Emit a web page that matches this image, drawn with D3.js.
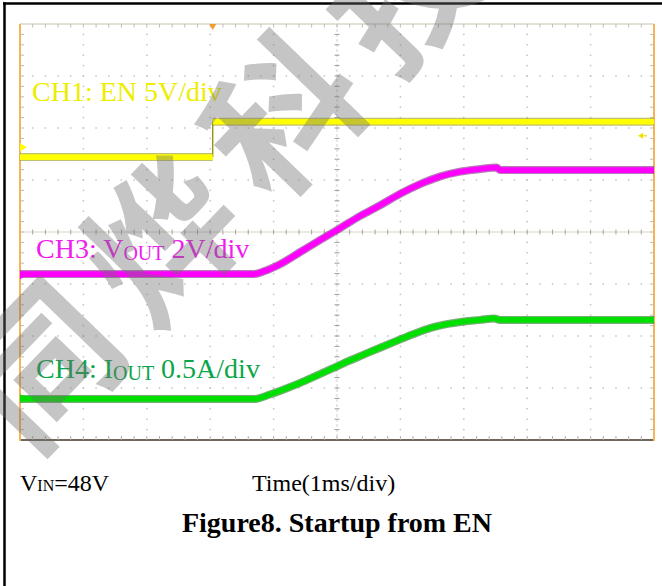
<!DOCTYPE html>
<html>
<head>
<meta charset="utf-8">
<script src="https://cdn.jsdelivr.net/npm/d3@7"></script>
<style>
  html, body { margin: 0; padding: 0; background: #fff; }
  svg { display: block; }
</style>
</head>
<body>
<svg id="chart" width="662" height="586"></svg>
<script>
// ---- scope screen: 10 time divisions x 8 vertical divisions ----
const timeDivisions = [0, 1, 2, 3, 4, 5, 6, 7, 8, 9, 10];      // ms (1 ms/div)
const verticalDivisions = [-4, -3, -2, -1, 0, 1, 2, 3, 4];

// CH1: EN (V)
const enTime  = [0, 3.04, 3.04, 10];
const enVolts = [0, 0, 3.4, 3.4];

// CH3: VOUT (V)
const voutTime  = [0, 3.68, 3.86, 4.1, 4.42, 4.73, 5.05, 5.36, 5.68, 5.99, 6.31, 6.62, 6.94, 7.26, 7.52, 7.57, 10];
const voutVolts = [0, 0, 0.12, 0.38, 0.85, 1.31, 1.77, 2.23, 2.65, 3.08, 3.46, 3.75, 3.94, 4.04, 4.1, 4.0, 4.0];

// CH4: IOUT (A)
const ioutTime = [0, 3.71, 3.94, 4.18, 4.42, 4.65, 4.91, 5.17, 5.43, 5.69, 5.96, 6.21, 6.48, 6.75, 7.0, 7.26, 7.48, 7.57, 10];
const ioutAmps = [0, 0, 0.043, 0.096, 0.154, 0.216, 0.288, 0.361, 0.428, 0.495, 0.563, 0.625, 0.683, 0.721, 0.745, 0.76, 0.774, 0.76, 0.76];

// channel settings (units per division, ground level in divisions from screen centre)
const channels = [
  { name: "CH1", time: enTime,   values: enVolts,   perDiv: 5,   ground: 1.44,  marker: 1.63, curve: d3.curveLinear,
    color: "#ffff00", edge: "#8c8c00", labelColor: "#eded00" },
  { name: "CH3", time: voutTime, values: voutVolts, perDiv: 2,   ground: -0.81, marker: -0.83, curve: d3.curveMonotoneX,
    color: "#ff00ff", edge: "#7a0a7a", labelColor: "#f01cf0" },
  { name: "CH4", time: ioutTime, values: ioutAmps,  perDiv: 0.5, ground: -3.21, marker: -3.19, curve: d3.curveMonotoneX,
    color: "#00e000", edge: "#0a6a0a", labelColor: "#0aa64a" }
];

const svg = d3.select("#chart");
const W = 662, H = 586;
const plot = { left: 20, right: 654, top: 24, bottom: 440 };

const x = d3.scaleLinear().domain([0, 10]).range([plot.left, plot.right]);
const y = d3.scaleLinear().domain([-4, 4]).range([plot.bottom, plot.top]);

svg.append("rect").attr("width", W).attr("height", H).attr("fill", "#fff");

// page frame
svg.append("line").attr("x1", 3).attr("x2", W).attr("y1", 3.5).attr("y2", 3.5)
  .attr("stroke", "#000").attr("stroke-width", 2.5);
svg.append("line").attr("x1", 4.5).attr("x2", 4.5).attr("y1", 2.3).attr("y2", H)
  .attr("stroke", "#000").attr("stroke-width", 2.5);

// ---- graticule ----
const grid = svg.append("g");
const sub = d3.range(0, 10.0001, 0.2);
const subV = d3.range(-4, 4.0001, 0.2);

// dotted division lines
timeDivisions.slice(1, -1).filter(d => d !== 5).forEach(t => {
  grid.selectAll(null).data(subV.slice(1, -1)).join("rect")
    .attr("x", x(t) - 0.75).attr("y", d => y(d) - 0.75)
    .attr("width", 1.5).attr("height", 1.5).attr("fill", "#c4c4c4");
});
verticalDivisions.slice(1, -1).filter(d => d !== 0).forEach(v => {
  grid.selectAll(null).data(sub.slice(1, -1)).join("rect")
    .attr("x", d => x(d) - 0.75).attr("y", y(v) - 0.75)
    .attr("width", 1.5).attr("height", 1.5).attr("fill", "#c4c4c4");
});

// centre axes with minor ticks
grid.append("line").attr("x1", plot.left).attr("x2", plot.right)
  .attr("y1", y(0)).attr("y2", y(0)).attr("stroke", "#d9d2c6").attr("stroke-width", 1);
grid.append("line").attr("x1", x(5)).attr("x2", x(5))
  .attr("y1", plot.top).attr("y2", plot.bottom).attr("stroke", "#d0d0d0").attr("stroke-width", 1)
  .attr("stroke-dasharray", "3,2");
grid.selectAll(null).data(sub.slice(1, -1)).join("line")
  .attr("x1", d => x(d)).attr("x2", d => x(d))
  .attr("y1", y(0) - 2.5).attr("y2", y(0) + 2.5).attr("stroke", "#aaa39a").attr("stroke-width", 1);
grid.selectAll(null).data(subV.slice(1, -1)).join("line")
  .attr("x1", x(5) - 2.5).attr("x2", x(5) + 2.5)
  .attr("y1", d => y(d)).attr("y2", d => y(d)).attr("stroke", "#9c9c9c").attr("stroke-width", 1);

// screen border: top and bottom edges with ticks
grid.append("line").attr("x1", plot.left).attr("x2", plot.right)
  .attr("y1", plot.top).attr("y2", plot.top).attr("stroke", "#ddd6ca").attr("stroke-width", 1.5);
grid.selectAll(null).data(sub.slice(1, -1)).join("line")
  .attr("x1", d => x(d)).attr("x2", d => x(d))
  .attr("y1", plot.top).attr("y2", plot.top + 3.5).attr("stroke", "#bdbdbd").attr("stroke-width", 1);
grid.append("line").attr("x1", plot.left).attr("x2", plot.right)
  .attr("y1", plot.bottom).attr("y2", plot.bottom).attr("stroke", "#6f665c").attr("stroke-width", 2);
grid.selectAll(null).data(sub.slice(1, -1)).join("line")
  .attr("x1", d => x(d)).attr("x2", d => x(d))
  .attr("y1", plot.bottom - 4).attr("y2", plot.bottom).attr("stroke", "#b5aea4").attr("stroke-width", 1);

// left and right edges with ticks
grid.selectAll(null).data(subV.slice(1, -1)).join("line")
  .attr("x1", plot.left).attr("x2", plot.left + 4)
  .attr("y1", d => y(d)).attr("y2", d => y(d)).attr("stroke", "#bdbdbd").attr("stroke-width", 1);
grid.selectAll(null).data(subV.slice(1, -1)).join("line")
  .attr("x1", plot.right - 4).attr("x2", plot.right)
  .attr("y1", d => y(d)).attr("y2", d => y(d)).attr("stroke", "#bdbdbd").attr("stroke-width", 1);
[plot.left, plot.right].forEach(px => {
  grid.append("line").attr("x1", px).attr("x2", px)
    .attr("y1", plot.top).attr("y2", plot.bottom + 1)
    .attr("stroke", "#f5b458").attr("stroke-width", 2);
});

// ---- traces ----
// a sample pair sharing the same time is a fast edge: drawn as a thin line,
// the settled runs between such edges are drawn as the wide persistence band
const traces = svg.append("g");
channels.forEach(ch => {
  const pts = ch.time.map((t, i) => [t, ch.ground + ch.values[i] / ch.perDiv]);
  const runs = [[pts[0]]];
  for (let i = 1; i < pts.length; i++) {
    if (pts[i][0] === pts[i - 1][0]) {
      traces.append("line")
        .attr("x1", x(pts[i][0])).attr("x2", x(pts[i][0]))
        .attr("y1", y(pts[i - 1][1])).attr("y2", y(pts[i][1]))
        .attr("stroke", ch.edge).attr("stroke-width", 1.3);
      runs.push([pts[i]]);
    } else {
      runs[runs.length - 1].push(pts[i]);
    }
  }
  const line = d3.line().curve(ch.curve).x(d => x(d[0])).y(d => y(d[1]));
  runs.forEach(run => {
    traces.append("path").attr("d", line(run)).attr("fill", "none")
      .attr("stroke", ch.edge).attr("stroke-width", 8).attr("stroke-opacity", 0.55)
      .attr("stroke-linejoin", "round");
    traces.append("path").attr("d", line(run)).attr("fill", "none")
      .attr("stroke", ch.color).attr("stroke-width", 5.6)
      .attr("stroke-linejoin", "round");
  });
  // ground reference marker on the left edge
  const my = y(ch.marker);
  traces.append("path")
    .attr("d", `M${plot.left},${my - 4}L${plot.left + 7},${my}L${plot.left},${my + 4}Z`)
    .attr("fill", ch.color);
});

// trigger position (top) and trigger level (right) markers
const trigT = enTime[1];
svg.append("path")
  .attr("d", `M${x(trigT) - 3.5},${plot.top}L${x(trigT) + 3.5},${plot.top}L${x(trigT)},${plot.top + 6}Z`)
  .attr("fill", "#f59a2a");
const trigLevel = channels[0].ground + 2.05 / channels[0].perDiv;
svg.append("path")
  .attr("d", `M${plot.right - 16},${y(trigLevel)}L${plot.right - 11},${y(trigLevel) - 3}L${plot.right - 11},${y(trigLevel) + 3}Z`)
  .attr("fill", "#f0e000");
svg.append("line").attr("x1", plot.right - 11).attr("x2", plot.right - 7)
  .attr("y1", y(trigLevel)).attr("y2", y(trigLevel)).attr("stroke", "#f0e000").attr("stroke-width", 1.2);

// ---- channel labels ----
const serif = "'Liberation Serif', 'Times New Roman', serif";
const lab = svg.append("g").attr("font-family", serif).attr("font-size", 28);
lab.append("text").attr("x", 32).attr("y", 101).attr("fill", channels[0].labelColor)
  .text("CH1: EN 5V/div");
const t3 = lab.append("text").attr("x", 36).attr("y", 258).attr("fill", channels[1].labelColor);
t3.append("tspan").text("CH3: V");
t3.append("tspan").attr("font-size", 20).attr("dy", 2).text("OUT");
t3.append("tspan").attr("dy", -2).text(" 2V/div");
const t4 = lab.append("text").attr("x", 36).attr("y", 378).attr("fill", channels[2].labelColor);
t4.append("tspan").text("CH4: I");
t4.append("tspan").attr("font-size", 20).attr("dy", 2).text("OUT");
t4.append("tspan").attr("dy", -2).text(" 0.5A/div");

// ---- watermark ----
svg.append("text")
  .attr("transform", "translate(30,458) rotate(-46)")
  .attr("font-family", "'Noto Sans CJK SC', sans-serif")
  .attr("font-size", 150).attr("font-weight", "bold")
  .attr("fill", "#6e6e6e").attr("fill-opacity", 0.4)
  .attr("letter-spacing", 24)
  .text("同烨科技");

// ---- captions ----
const cap = svg.append("g").attr("font-family", serif).attr("fill", "#000");
const vin = cap.append("text").attr("x", 20).attr("y", 491).attr("font-size", 24);
vin.append("tspan").text("V");
vin.append("tspan").attr("font-size", 16).text("IN");
vin.append("tspan").text("=48V");
cap.append("text").attr("x", 252).attr("y", 491).attr("font-size", 24).text("Time(1ms/div)");
cap.append("text").attr("x", 337).attr("y", 532).attr("font-size", 28).attr("font-weight", "bold")
  .attr("text-anchor", "middle").text("Figure8. Startup from EN");
</script>
</body>
</html>
